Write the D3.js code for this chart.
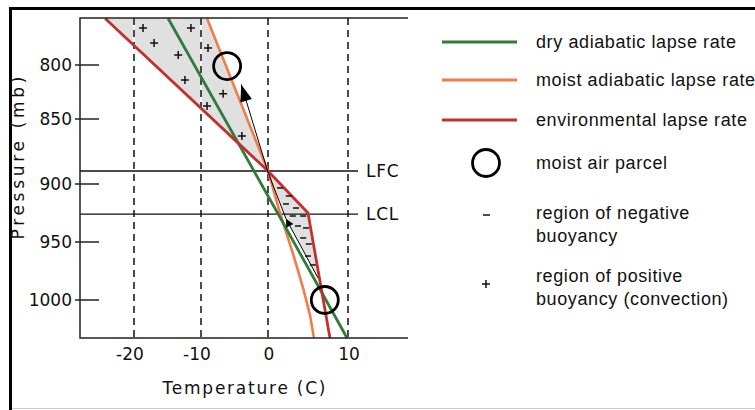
<!DOCTYPE html>
<html>
<head>
<meta charset="utf-8">
<script src="https://cdn.jsdelivr.net/npm/d3@7"></script>
<style>
  body { margin: 0; background: #fff; }
  svg { display: block; }
</style>
</head>
<body>
<div id="chart"></div>
<script>
// Temperature / pressure diagram of a rising moist air parcel

// axis ticks
const tempTicks = [-20, -10, 0, 10];
const pressureTicks = [800, 850, 900, 950, 1000];

// curves as [temperature C, pressure mb]
const dryAdiabat = [[-14.9, 757], [1.2, 925], [9.9, 1033]];
const moistAdiabat = [[-9.1, 757], [0, 890], [1.5, 925], [3.1, 959.5], [4.4, 990], [5.25, 1013], [5.75, 1033]];
const environment = [[-24.3, 757], [0, 890], [5, 925], [7.75, 1033]];

// parcel path: surface -> LCL -> LFC -> aloft
const parcelLow = [[6.25, 981], [2.25, 930]];
const parcelHigh = [[2.25, 930], [0, 891], [-4.0, 818]];
const parcels = [[-6.1, 801], [7.1, 1000]];

const levels = [{ name: 'LFC', p: 890 }, { name: 'LCL', p: 926 }];

// buoyancy regions
const positiveRegion = [[-24.3, 757], [0, 890], [-9.1, 757]];
const negativeRegion = [[0, 890], [5, 925], [6.25, 981], [2.25, 930]];
const plusMarks = [[-18.65, 765.7], [-11.5, 765.7], [-17.0, 779.6], [-8.95, 784.3], [-13.4, 790.7],
                   [-12.4, 813.9], [-6.7, 826.6], [-9.1, 838.0], [-3.9, 863.1]];
const minusMarks = [[1.5, 903.4], [2.6, 910.3], [2.25, 917.2], [3.5, 920.7], [3.1, 927.6], [4.4, 927.6],
                    [3.75, 936.2], [4.75, 937.9], [4.4, 946.5], [5.1, 951.7], [5.0, 962.1], [5.6, 969.8]];

const lineLegend = [
    { label: 'dry adiabatic lapse rate', color: '#2e7d3a' },
    { label: 'moist adiabatic lapse rate', color: '#f47a4a' },
    { label: 'environmental lapse rate', color: '#c3302e' }
];
const regionLegend = [
    { sign: '-', lines: ['region of negative', 'buoyancy'] },
    { sign: '+', lines: ['region of positive', 'buoyancy (convection)'] }
];

const width = 755, height = 410;
const plot = { left: 80, top: 18, right: 408, bottom: 338 };

const svg = d3.select('#chart').append('svg')
    .attr('width', width)
    .attr('height', height);

svg.append('rect').attr('width', width).attr('height', height).attr('fill', '#fff');

// hand-drawn diagram: axes are not evenly spaced, so use piecewise scales
const x = d3.scaleLinear().domain(tempTicks).range([134, 201, 268, 348]);
const y = d3.scaleLinear().domain(pressureTicks).range([65, 119, 184, 242, 300]);

const line = d3.line().x(d => x(d[0])).y(d => y(d[1]));
const axisFont = '"DejaVu Sans", sans-serif';
const legendFont = '"Liberation Sans", Arial, sans-serif';

// outer frame
svg.append('line').attr('x1', 10.5).attr('x2', 10.5).attr('y1', 7).attr('y2', 410)
    .attr('stroke', '#000').attr('stroke-width', 3);
svg.append('line').attr('x1', 9).attr('x2', width).attr('y1', 8.5).attr('y2', 8.5)
    .attr('stroke', '#000').attr('stroke-width', 3);
svg.append('line').attr('x1', 12).attr('x2', width).attr('y1', 408.5).attr('y2', 408.5)
    .attr('stroke', '#ccc').attr('stroke-width', 1);

const g = svg.append('g');

// shaded regions
g.append('path').attr('d', line(positiveRegion) + 'Z').attr('fill', '#e0e0e0');
g.append('path').attr('d', line(negativeRegion) + 'Z').attr('fill', '#e0e0e0');

// vertical dashed grid (white under, so gaps look white on the shading)
tempTicks.forEach(t => {
    g.append('line').attr('x1', x(t)).attr('x2', x(t)).attr('y1', plot.top).attr('y2', plot.bottom)
        .attr('stroke', '#fff').attr('stroke-width', 1.5);
    g.append('line').attr('x1', x(t)).attr('x2', x(t)).attr('y1', plot.top).attr('y2', plot.bottom)
        .attr('stroke', '#111').attr('stroke-width', 1.5).attr('stroke-dasharray', '7,5');
});

// LFC / LCL levels
levels.forEach(l => {
    g.append('line').attr('x1', plot.left).attr('x2', 358).attr('y1', y(l.p)).attr('y2', y(l.p))
        .attr('stroke', '#111').attr('stroke-width', 1.3);
    g.append('text').attr('x', 366).attr('y', y(l.p)).attr('dy', '0.36em')
        .style('font-family', axisFont).style('font-size', '17px').style('letter-spacing', '0.7px')
        .attr('fill', '#111').text(l.name);
});

// curves
g.append('path').attr('d', line(moistAdiabat)).attr('fill', 'none')
    .attr('stroke', lineLegend[1].color).attr('stroke-width', 2.6);
g.append('path').attr('d', line(dryAdiabat)).attr('fill', 'none')
    .attr('stroke', lineLegend[0].color).attr('stroke-width', 2.8);
g.append('path').attr('d', line(environment)).attr('fill', 'none')
    .attr('stroke', lineLegend[2].color).attr('stroke-width', 2.8);

// buoyancy marks
g.selectAll('.plus').data(plusMarks).join('path')
    .attr('class', 'plus')
    .attr('d', d => `M${x(d[0]) - 4},${y(d[1])}h8M${x(d[0])},${y(d[1]) - 4}v8`)
    .attr('stroke', '#111').attr('stroke-width', 1.5);
g.selectAll('.minus').data(minusMarks).join('path')
    .attr('class', 'minus')
    .attr('d', d => `M${x(d[0]) - 3},${y(d[1])}h6`)
    .attr('stroke', '#111').attr('stroke-width', 1.5);

// arrow markers
const defs = svg.append('defs');
defs.append('marker').attr('id', 'bigArrow').attr('markerUnits', 'userSpaceOnUse')
    .attr('viewBox', '-18 -7 19 14').attr('refX', 0).attr('refY', 0)
    .attr('markerWidth', 19).attr('markerHeight', 14).attr('orient', 'auto')
    .append('path').attr('d', 'M0,0L-17,-6L-17,6Z').attr('fill', '#000');
defs.append('marker').attr('id', 'smallArrow').attr('markerUnits', 'userSpaceOnUse')
    .attr('viewBox', '-9 -5 10 10').attr('refX', 0).attr('refY', 0)
    .attr('markerWidth', 10).attr('markerHeight', 10).attr('orient', 'auto')
    .append('path').attr('d', 'M0,0L-8,-4L-8,4Z').attr('fill', '#000');

g.append('path').attr('d', line(parcelLow)).attr('fill', 'none')
    .attr('stroke', '#000').attr('stroke-width', 1).attr('marker-end', 'url(#smallArrow)');
g.append('path').attr('d', line(parcelHigh)).attr('fill', 'none')
    .attr('stroke', '#000').attr('stroke-width', 1).attr('marker-end', 'url(#bigArrow)');

// air parcels
g.selectAll('.parcel').data(parcels).join('circle')
    .attr('class', 'parcel')
    .attr('cx', d => x(d[0])).attr('cy', d => y(d[1])).attr('r', 13.5)
    .attr('fill', 'none').attr('stroke', '#000').attr('stroke-width', 2.8);

// plot frame
g.append('path')
    .attr('d', `M${plot.right},${plot.top}H${plot.left}V${plot.bottom}H${plot.right}`)
    .attr('fill', 'none').attr('stroke', '#222').attr('stroke-width', 1.5);

// pressure ticks
pressureTicks.forEach(p => {
    g.append('line').attr('x1', plot.left - 5).attr('x2', plot.left + 19).attr('y1', y(p)).attr('y2', y(p))
        .attr('stroke', '#222').attr('stroke-width', 1.5);
    g.append('text').attr('x', plot.left - 8).attr('y', y(p)).attr('dy', '0.36em')
        .attr('text-anchor', 'end')
        .style('font-family', axisFont).style('font-size', '17px').attr('fill', '#111')
        .text(p);
});

// temperature tick labels (digits centred on the grid line, minus hangs left)
tempTicks.forEach(t => {
    g.append('text').attr('x', x(t) + (t < 0 ? -4 : 1)).attr('y', 360)
        .attr('text-anchor', 'middle')
        .style('font-family', axisFont).style('font-size', '17px').attr('fill', '#111')
        .text(t);
});

// axis titles
g.append('text').attr('x', 244).attr('y', 394).attr('text-anchor', 'middle')
    .attr('textLength', 163).attr('lengthAdjust', 'spacing')
    .style('font-family', axisFont).style('font-size', '17px').attr('fill', '#111')
    .text('Temperature (C)');
g.append('text').attr('transform', 'translate(24,158) rotate(-90)').attr('text-anchor', 'middle')
    .attr('textLength', 163).attr('lengthAdjust', 'spacing')
    .style('font-family', axisFont).style('font-size', '17px').attr('fill', '#111')
    .text('Pressure (mb)');

// legend
const legend = svg.append('g');
const lineRows = [42, 80, 120];
lineLegend.forEach((d, i) => {
    legend.append('line').attr('x1', 442).attr('x2', 517).attr('y1', lineRows[i]).attr('y2', lineRows[i])
        .attr('stroke', d.color).attr('stroke-width', 3);
    legend.append('text').attr('x', 536).attr('y', lineRows[i] + 6)
        .style('font-family', legendFont).style('font-size', '18px').style('letter-spacing', '0.6px')
        .attr('fill', '#111').text(d.label);
});

legend.append('circle').attr('cx', 486).attr('cy', 163).attr('r', 13.5)
    .attr('fill', 'none').attr('stroke', '#000').attr('stroke-width', 2.8);
legend.append('text').attr('x', 536).attr('y', 169)
    .style('font-family', legendFont).style('font-size', '18px').style('letter-spacing', '0.6px')
    .attr('fill', '#111').text('moist air parcel');

const noteRows = [219, 282];
regionLegend.forEach((d, i) => {
    const cy = noteRows[i];
    if (d.sign === '-') {
        legend.append('path').attr('d', `M483,${cy - 4}h7`).attr('stroke', '#111').attr('stroke-width', 1.5);
    } else {
        legend.append('path').attr('d', `M482,${cy + 2}h8M486,${cy - 2}v8`).attr('stroke', '#111').attr('stroke-width', 1.5);
    }
    d.lines.forEach((t, j) => {
        legend.append('text').attr('x', 536).attr('y', cy + j * 23)
            .style('font-family', legendFont).style('font-size', '18px').style('letter-spacing', '0.6px')
            .attr('fill', '#111').text(t);
    });
});
</script>
</body>
</html>
